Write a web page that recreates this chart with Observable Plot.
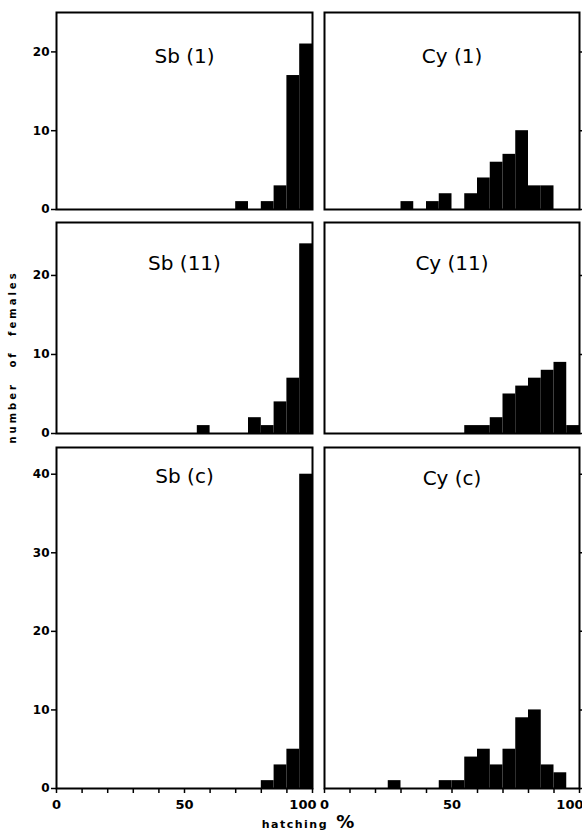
<!DOCTYPE html>
<html>
<head>
<meta charset="utf-8">
<script src="https://cdn.jsdelivr.net/npm/d3@7"></script>
<script src="https://cdn.jsdelivr.net/npm/@observablehq/plot@0.6"></script>
<style>
  html, body { margin: 0; padding: 0; background: #fff; }
  #chart { position: relative; width: 582px; height: 831px; overflow: hidden; background: #fff; }
  #chart svg { position: absolute; background: transparent; }
  .ttl { position: absolute; font-family: "DejaVu Sans", sans-serif; font-weight: bold; color: #000; white-space: nowrap; }
</style>
</head>
<body>
<div id="chart"></div>
<script>
// ---- data (counts of females per 5 % hatching class) ----
const binStarts = [0,5,10,15,20,25,30,35,40,45,50,55,60,65,70,75,80,85,90,95];
const binWidth = 5;
const sb1Counts  = [0,0,0,0,0,0,0,0,0,0,0,0,0,0,1,0,1,3,17,21];
const cy1Counts  = [0,0,0,0,0,0,1,0,1,2,0,2,4,6,7,10,3,3,0,0];
const sb11Counts = [0,0,0,0,0,0,0,0,0,0,0,1,0,0,0,2,1,4,7,24];
const cy11Counts = [0,0,0,0,0,0,0,0,0,0,0,1,1,2,5,6,7,8,9,1];
const sbcCounts  = [0,0,0,0,0,0,0,0,0,0,0,0,0,0,0,0,1,3,5,40];
const cycCounts  = [0,0,0,0,0,1,0,0,0,1,1,4,5,3,5,9,10,3,2,0];
const panelTitles = ["Sb (1)", "Cy (1)", "Sb (11)", "Cy (11)", "Sb (c)", "Cy (c)"];
const yTicksSmall = [0, 10, 20];
const yTicksLarge = [0, 10, 20, 30, 40];
const xTicks = [0, 10, 20, 30, 40, 50, 60, 70, 80, 90, 100];
const xTickLabels = [0, 50];
const xEndLabel = [100];
const yMaxRows = [25, 26.7, 43.4];
const yAxisTitle = "number of females";
const xAxisTitle = "hatching";
const xAxisUnit = "%";

// ---- layout ----
const cols = [
  {left: 0,   width: 316, marginLeft: 56, marginRight: 4, side: "left"},
  {left: 316, width: 266, marginLeft: 8,  marginRight: 3, side: "right"}
];
const rows = [
  {top: 0,   height: 216, marginTop: 12, marginBottom: 7,  ticks: yTicksSmall, bottom: false, dy: [36, 36]},
  {top: 216, height: 224, marginTop: 6,  marginBottom: 7,  ticks: yTicksSmall, bottom: false, dy: [33, 33]},
  {top: 440, height: 391, marginTop: 7,  marginBottom: 43, ticks: yTicksLarge, bottom: true,  dy: [21, 23]}
];
const countsGrid = [[sb1Counts, cy1Counts], [sb11Counts, cy11Counts], [sbcCounts, cycCounts]];

const chart = document.getElementById("chart");
const font = "DejaVu Sans, sans-serif";

rows.forEach((row, ri) => {
  cols.forEach((col, ci) => {
    const counts = countsGrid[ri][ci];
    const data = binStarts.map((b, i) => ({x0: b, x1: b + binWidth, n: counts[i]}));
    const marks = [
      Plot.rectY(data, {x1: "x0", x2: "x1", y: "n", fill: "black", inset: 0}),
      Plot.frame({stroke: "black", strokeWidth: 2}),
      Plot.text([panelTitles[ri * 2 + ci]], {
        x: 50, frameAnchor: "top", dy: row.dy[ci], text: d => d,
        fontSize: 20, fontFamily: font, fill: "black",
        style: "word-spacing: 5px"
      })
    ];
    if (col.side === "left") {
      marks.push(Plot.axisY({anchor: "left", label: null, ticks: row.ticks, tickSize: 5, tickPadding: 2,
        fontSize: 12, fontWeight: "bold", fontFamily: font, strokeWidth: 1.5}));
    } else {
      marks.push(Plot.axisY({anchor: "right", label: null, ticks: row.ticks, tickSize: 5, tickFormat: () => "", strokeWidth: 1.5}));
    }
    if (row.bottom) {
      marks.push(Plot.axisX({anchor: "bottom", label: null, ticks: xTicks, tickSize: 5, tickFormat: () => "", strokeWidth: 1.5}));
      marks.push(Plot.axisX({anchor: "bottom", label: null, ticks: xTickLabels, tickSize: 0, tickPadding: 11,
        fontSize: 13, fontWeight: "bold", fontFamily: font}));
      marks.push(Plot.axisX({anchor: "bottom", label: null, ticks: xEndLabel, tickSize: 0, tickPadding: 11,
        fontSize: 13, fontWeight: "bold", fontFamily: font, textAnchor: "end", dx: 4}));
    }
    const svg = Plot.plot({
      width: col.width, height: row.height,
      marginLeft: col.marginLeft, marginRight: col.marginRight,
      marginTop: row.marginTop, marginBottom: row.marginBottom,
      x: {domain: [0, 100], axis: null, label: null},
      y: {domain: [0, yMaxRows[ri]], axis: null, label: null},
      style: {background: "transparent", fontFamily: font, color: "black", overflow: "visible"},
      marks
    });
    svg.style.left = col.left + "px";
    svg.style.top = row.top + "px";
    chart.appendChild(svg);
  });
});

// axis titles (HTML text)
const yt = document.createElement("div");
yt.className = "ttl";
yt.textContent = yAxisTitle;
yt.style.cssText += "left:12px; top:357px; font-size:10px; letter-spacing:3px; word-spacing:8px; transform: translate(-50%,-50%) rotate(-90deg);";
chart.appendChild(yt);

const xt = document.createElement("div");
xt.className = "ttl";
const xs1 = document.createElement("span");
xs1.textContent = xAxisTitle;
xs1.style.cssText = "font-size:11px; letter-spacing:1.5px;";
const xs2 = document.createElement("span");
xs2.textContent = " " + xAxisUnit;
xs2.style.cssText = "font-size:18px; margin-left:2px;";
xt.appendChild(xs1); xt.appendChild(xs2);
xt.style.cssText += "left:308px; top:822px; transform: translate(-50%,-50%); line-height:1;";
chart.appendChild(xt);
</script>
</body>
</html>
